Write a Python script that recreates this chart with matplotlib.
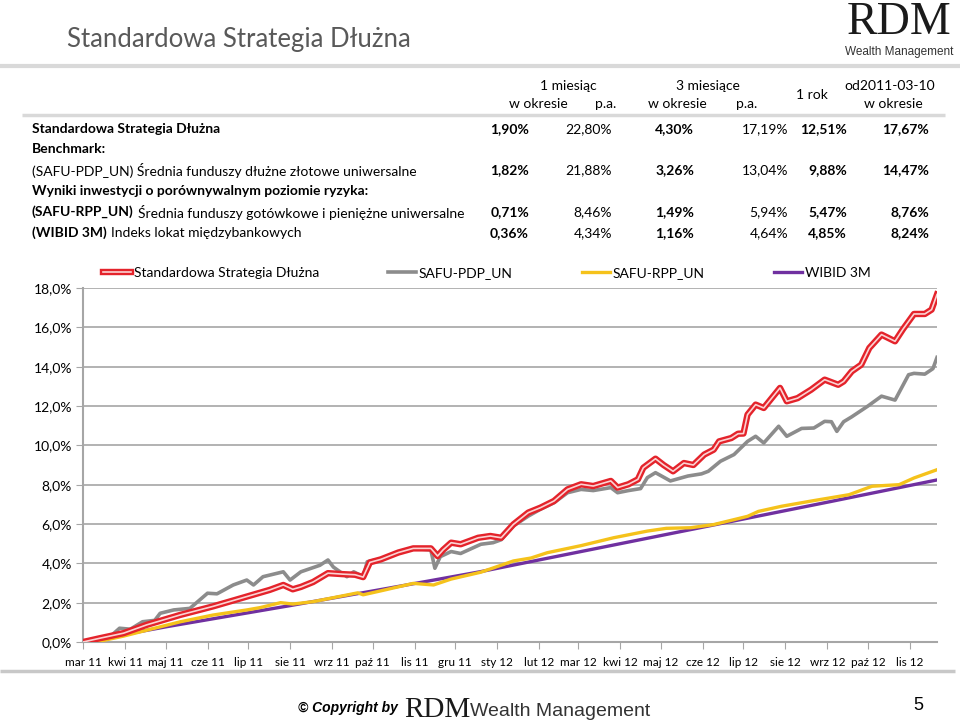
import numpy as np
import pandas as pd
import matplotlib
matplotlib.use('Agg')
import matplotlib.pyplot as plt
import matplotlib.patheffects as pe
from matplotlib.ticker import FuncFormatter

# --- dane wykresu ---
strategy_dates = ['2011-03-10', '2011-03-23', '2011-04-09', '2011-04-26', '2011-05-21', '2011-06-14',
                  '2011-07-09', '2011-07-26', '2011-08-05', '2011-08-12', '2011-08-18', '2011-08-27',
                  '2011-09-07', '2011-09-18', '2011-09-27', '2011-10-03', '2011-10-08', '2011-10-16',
                  '2011-10-29', '2011-11-09', '2011-11-22', '2011-11-27', '2011-12-01', '2011-12-07',
                  '2011-12-14', '2011-12-27', '2012-01-05', '2012-01-13', '2012-01-22', '2012-02-02',
                  '2012-02-11', '2012-02-21', '2012-03-02', '2012-03-12', '2012-03-21', '2012-04-03',
                  '2012-04-08', '2012-04-16', '2012-04-23', '2012-04-27', '2012-05-06', '2012-05-12',
                  '2012-05-19', '2012-05-27', '2012-06-03', '2012-06-11', '2012-06-18', '2012-06-22',
                  '2012-07-01', '2012-07-06', '2012-07-10', '2012-07-13', '2012-07-19', '2012-07-25',
                  '2012-07-29', '2012-08-06', '2012-08-11', '2012-08-19', '2012-08-29', '2012-09-08',
                  '2012-09-18', '2012-09-22', '2012-09-28', '2012-10-05', '2012-10-11', '2012-10-20',
                  '2012-10-25', '2012-10-30', '2012-11-05', '2012-11-13', '2012-11-21', '2012-11-26',
                  '2012-11-30']
strategy_vals = [0.00, 0.20, 0.45, 0.87, 1.38, 1.81,
                 2.31, 2.65, 2.90, 2.68, 2.80, 3.05,
                 3.50, 3.45, 3.42, 3.30, 4.05, 4.20,
                 4.55, 4.76, 4.76, 4.37, 4.68, 5.05,
                 4.97, 5.30, 5.39, 5.30, 5.98, 6.58,
                 6.83, 7.17, 7.76, 8.02, 7.93, 8.19,
                 7.85, 8.02, 8.27, 8.86, 9.32, 9.00,
                 8.68, 9.10, 9.00, 9.53, 9.78, 10.20,
                 10.37, 10.59, 10.60, 11.56, 12.07, 11.90,
                 12.24, 12.92, 12.24, 12.40, 12.83, 13.34,
                 13.08, 13.25, 13.76, 14.10, 14.95, 15.63,
                 15.46, 15.29, 15.92, 16.68, 16.68, 16.90,
                 17.67]

pdp_dates = ['2011-03-10', '2011-03-23', '2011-03-30', '2011-04-06', '2011-04-14', '2011-04-23',
             '2011-05-02', '2011-05-06', '2011-05-16', '2011-05-28', '2011-06-10', '2011-06-17',
             '2011-06-29', '2011-07-09', '2011-07-14', '2011-07-21', '2011-08-05', '2011-08-10',
             '2011-08-18', '2011-09-01', '2011-09-07', '2011-09-11', '2011-09-21', '2011-09-26',
             '2011-10-03', '2011-10-06', '2011-10-18', '2011-10-28', '2011-11-09', '2011-11-22',
             '2011-11-25', '2011-11-29', '2011-12-07', '2011-12-14', '2011-12-29', '2012-01-07',
             '2012-01-13', '2012-01-22', '2012-02-02', '2012-02-11', '2012-02-21', '2012-03-02',
             '2012-03-12', '2012-03-21', '2012-04-03', '2012-04-08', '2012-04-16', '2012-04-25',
             '2012-04-30', '2012-05-06', '2012-05-17', '2012-05-30', '2012-06-09', '2012-06-14',
             '2012-06-23', '2012-07-03', '2012-07-13', '2012-07-19', '2012-07-25', '2012-08-05',
             '2012-08-11', '2012-08-22', '2012-08-31', '2012-09-08', '2012-09-13', '2012-09-17',
             '2012-09-22', '2012-09-28', '2012-10-10', '2012-10-20', '2012-10-30', '2012-11-09',
             '2012-11-13', '2012-11-21', '2012-11-27', '2012-11-30']
pdp_vals = [0.00, 0.20, 0.27, 0.70, 0.65, 1.03,
            1.10, 1.46, 1.63, 1.71, 2.48, 2.45,
            2.90, 3.15, 2.90, 3.32, 3.57, 3.15,
            3.57, 3.90, 4.17, 3.81, 3.32, 3.57,
            3.32, 4.08, 4.25, 4.50, 4.76, 4.68,
            3.75, 4.34, 4.60, 4.50, 4.97, 5.05,
            5.20, 5.90, 6.40, 6.75, 7.08, 7.59,
            7.76, 7.70, 7.85, 7.59, 7.70, 7.80,
            8.36, 8.61, 8.19, 8.44, 8.55, 8.68,
            9.19, 9.53, 10.20, 10.46, 10.12, 10.97,
            10.46, 10.86, 10.88, 11.22, 11.20, 10.71,
            11.20, 11.45, 12.00, 12.50, 12.30, 13.59,
            13.66, 13.62, 13.90, 14.47]

rpp_dates = ['2011-03-10', '2011-03-23', '2011-04-09', '2011-04-29', '2011-05-21', '2011-06-14',
             '2011-07-09', '2011-07-19', '2011-08-03', '2011-08-12', '2011-08-27', '2011-09-21',
             '2011-09-29', '2011-10-03', '2011-10-16', '2011-11-09', '2011-11-24', '2011-12-07',
             '2011-12-29', '2012-01-22', '2012-02-04', '2012-02-16', '2012-03-12', '2012-04-05',
             '2012-04-30', '2012-05-14', '2012-06-01', '2012-06-18', '2012-07-13', '2012-07-21',
             '2012-08-07', '2012-08-31', '2012-09-26', '2012-10-13', '2012-11-02', '2012-11-13',
             '2012-11-30']
rpp_vals = [0.00, 0.05, 0.30, 0.65, 1.03, 1.37,
            1.63, 1.75, 2.00, 1.93, 2.05, 2.39,
            2.50, 2.40, 2.60, 2.98, 2.90, 3.20,
            3.55, 4.12, 4.27, 4.54, 4.90, 5.30,
            5.64, 5.78, 5.81, 5.97, 6.39, 6.64,
            6.90, 7.19, 7.49, 7.92, 8.00, 8.34,
            8.76]

wibid_dates = ['2011-03-10', '2011-05-11', '2011-08-10', '2011-10-31', '2011-12-29',
               '2012-03-12', '2012-06-18', '2012-09-13', '2012-11-30']
wibid_vals = [0.00, 0.78, 1.85, 2.85, 3.58, 4.60, 5.95, 7.15, 8.24]

series_names = ['Standardowa Strategia Dłużna', 'SAFU-PDP_UN', 'SAFU-RPP_UN', 'WIBID 3M']

tick_labels = ['mar 11', 'kwi 11', 'maj 11', 'cze 11', 'lip 11', 'sie 11', 'wrz 11', 'paź 11',
               'lis 11', 'gru 11', 'sty 12', 'lut 12', 'mar 12', 'kwi 12', 'maj 12', 'cze 12',
               'lip 12', 'sie 12', 'wrz 12', 'paź 12', 'lis 12']

# --- dane tabeli ---
col_head_top = ['1 miesiąc', '3 miesiące', '1 rok', 'od2011-03-10']
col_head_bottom = ['w okresie', 'p.a.', 'w okresie', 'p.a.', 'w okresie']
row_bold_part = ['Standardowa Strategia Dłużna', 'Benchmark:', '',
                 'Wyniki inwestycji o porównywalnym poziomie ryzyka:', '(SAFU-RPP_UN)', '(WIBID 3M)']
row_normal_part = ['', '', '(SAFU-PDP_UN) Średnia funduszy dłużne złotowe uniwersalne', '',
                   'Średnia funduszy gotówkowe i pieniężne uniwersalne', 'Indeks lokat międzybankowych']
strategy_ret = [1.90, 22.80, 4.30, 17.19, 12.51, 17.67]
pdp_ret = [1.82, 21.88, 3.26, 13.04, 9.88, 14.47]
rpp_ret = [0.71, 8.46, 1.49, 5.94, 5.47, 8.76]
wibid_ret = [0.36, 4.34, 1.16, 4.64, 4.85, 8.24]
table_rows = {0: strategy_ret, 2: pdp_ret, 4: rpp_ret, 5: wibid_ret}
col_bold = [True, False, True, False, True, True]

FONT = 'Lato'
plt.rcParams['font.family'] = [FONT, 'DejaVu Sans']

fig = plt.figure(figsize=(9.6, 7.22), dpi=100)
fig.patch.set_facecolor('white')

# tło slajdu w pikselach
bg = fig.add_axes([0, 0, 1, 1])
bg.set_xlim(0, 960)
bg.set_ylim(722, 0)
bg.axis('off')

bg.text(67, 40, 'Standardowa Strategia Dłużna', fontsize=18.5, color='#595959', va='center', ha='left')
bg.plot([0, 960], [66, 66], color='#d9d9d9', lw=3, solid_capstyle='butt')
bg.plot([22, 945], [115, 115], color='#d9d9d9', lw=2.5, solid_capstyle='butt')
bg.plot([0, 955], [671, 671], color='#c8c8c8', lw=2.5, solid_capstyle='butt')

# logo
bg.text(899, 44, 'RDM', family='Liberation Serif', fontsize=33, ha='center', va='bottom', color='#1a1a1a')
bg.text(899, 52, 'Wealth Management', family='Liberation Sans', fontsize=8.5, ha='center', va='center',
        color='#333333')

# nagłówek tabeli
hfs = 10
bg.text(568, 86, col_head_top[0], fontsize=hfs, ha='center', va='center')
bg.text(708, 86, col_head_top[1], fontsize=hfs, ha='center', va='center')
bg.text(812, 95, col_head_top[2], fontsize=hfs, ha='center', va='center')
bg.text(890, 86, col_head_top[3], fontsize=hfs, ha='center', va='center')
for cx, lab in zip([538, 606, 677, 747, 893], col_head_bottom):
    bg.text(cx, 104, lab, fontsize=hfs, ha='center', va='center')

row_y = [129, 149, 170, 191, 212, 233]
col_right = [529, 612, 694, 788, 847, 929]
for i, y in enumerate(row_y):
    t = bg.text(32, y, row_bold_part[i], fontsize=hfs, fontweight='bold', ha='left', va='center')
    if row_normal_part[i]:
        if row_bold_part[i]:
            bg.annotate(row_normal_part[i], xy=(1, 0.5), xycoords=t, xytext=(4, 0),
                        textcoords='offset pixels', fontsize=hfs, ha='left', va='center')
        else:
            bg.text(32, y, row_normal_part[i], fontsize=hfs, ha='left', va='center')
    if i in table_rows:
        for j, v in enumerate(table_rows[i]):
            s = f'{v:.2f}'.replace('.', ',') + '%'
            bg.text(col_right[j], y, s, fontsize=hfs, ha='right', va='center',
                    fontweight='bold' if col_bold[j] else 'normal')

# stopka
bg.text(398, 708, '© Copyright by', family='Liberation Sans', fontsize=10, fontweight='bold',
        style='italic', ha='right', va='center')
bg.text(404, 717, 'RDM', family='Liberation Serif', fontsize=21, ha='left', va='baseline', color='#1a1a1a')
bg.text(470, 711, 'Wealth Management', family='Liberation Sans', fontsize=14, ha='left', va='center',
        color='#333333')
bg.text(918, 705, '5', family='Liberation Sans', fontsize=13, ha='center', va='center')

# --- wykres ---
ax = fig.add_axes([83 / 960, 80 / 722, 854 / 960, 354 / 722])
grid_c = '#a6a6a6'

ax.plot(pd.to_datetime(wibid_dates), wibid_vals, color='#7030a0', lw=2.4, label=series_names[3], zorder=3)
ax.plot(pd.to_datetime(rpp_dates), rpp_vals, color='#f5c21b', lw=2.4, label=series_names[2], zorder=3)
ax.plot(pd.to_datetime(pdp_dates), pdp_vals, color='#8c8c8c', lw=2.6, label=series_names[1], zorder=4)
ax.plot(pd.to_datetime(strategy_dates), strategy_vals, color='#fbd3d3', lw=1.2, label=series_names[0],
        zorder=5, path_effects=[pe.Stroke(linewidth=4.6, foreground='#e4232b'), pe.Normal()])

ax.set_ylim(0, 18)
ax.set_yticks(np.arange(0, 18.1, 2))
ax.yaxis.set_major_formatter(FuncFormatter(lambda v, p: f'{v:.1f}'.replace('.', ',') + '%'))
ax.set_xlim(pd.Timestamp('2011-03-10'), pd.Timestamp('2012-11-30'))
tick_pos = pd.date_range('2011-03-10', periods=len(tick_labels), freq=pd.DateOffset(months=1))
ax.set_xticks(tick_pos)
ax.set_xticklabels(tick_labels)

ax.grid(axis='y', color=grid_c, lw=1.2)
ax.set_axisbelow(True)
for s in ['top', 'right']:
    ax.spines[s].set_visible(False)
for s in ['left', 'bottom']:
    ax.spines[s].set_color(grid_c)
    ax.spines[s].set_linewidth(1.5)
ax.tick_params(axis='y', length=5, color=grid_c, labelsize=10, pad=3)
ax.tick_params(axis='x', length=5, color=grid_c, labelsize=8.5, pad=6)

h, l = ax.get_legend_handles_labels()
ax.legend(h[::-1], l[::-1], loc='center left', bbox_to_anchor=(103 / 960, 1 - 273 / 722),
          bbox_transform=fig.transFigure, ncol=4, frameon=False, fontsize=10, borderpad=0,
          borderaxespad=0, handlelength=2.0, handletextpad=0.2, columnspacing=5.0)

fig.savefig('out.png', dpi=100)
